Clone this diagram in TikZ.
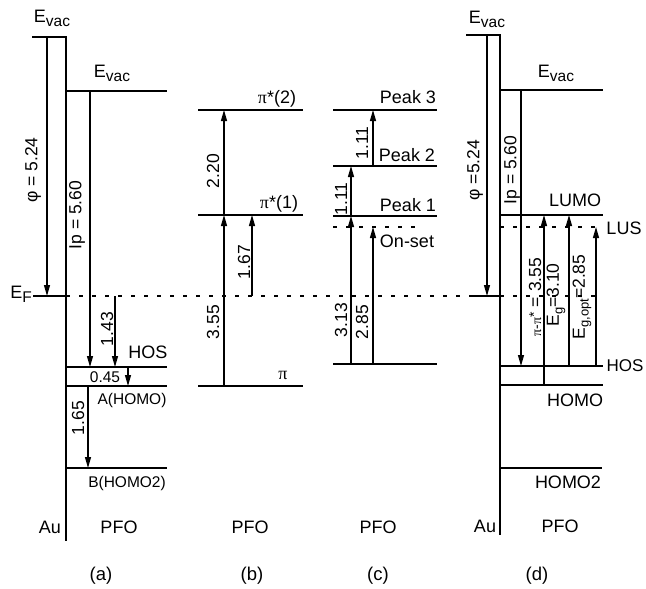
\documentclass[tikz,border=0pt]{standalone}
\usepackage{fontspec}
\setmainfont{Liberation Sans}
\newfontfamily\pifont{Liberation Serif}
\usetikzlibrary{arrows.meta}
\newcommand\lsub[1]{\raisebox{-0.4ex}{\fontsize{15.5}{15.5}\selectfont #1}}
\newcommand\ssub[1]{\raisebox{-0.4ex}{\fontsize{13}{13}\selectfont #1}}
\newcommand\PI{{\pifont π}}
\begin{document}
\begin{tikzpicture}[x=1pt,y=-1pt,
  level/.style={line width=2pt},
  metal/.style={line width=2.4pt,line join=miter},
  arr/.style={line width=1.2pt,-{Triangle[length=11pt,width=6pt]}},
  efdots/.style={line width=2.2pt,dash pattern=on 3.5pt off 9.5pt},
  lab/.style={font=\fontsize{18}{20}\selectfont, inner sep=0pt},
  num/.style={font=\fontsize{17.5}{19}\selectfont, inner sep=0pt, rotate=90},
  caplab/.style={font=\fontsize{18.5}{20}\selectfont, inner sep=0pt},
]
\useasboundingbox (0,0) rectangle (646,589);

% ---------------- panel (a)
\coordinate (aT0) at (32,37); \coordinate (aT1) at (66,37); \coordinate (aAu) at (66,541);
\draw[metal] (aT0) -- (aT1) -- (aAu);
\coordinate (aV0) at (66,91);  \coordinate (aV1) at (167,91);
\coordinate (aH0) at (66,367); \coordinate (aH1) at (167,367);
\coordinate (aA0) at (66,386); \coordinate (aA1) at (167,386);
\coordinate (aB0) at (66,468); \coordinate (aB1) at (167,468);
\coordinate (aF0) at (33,296); \coordinate (aF1) at (66,296);
\draw[level] (aV0) -- (aV1);
\draw[level] (aH0) -- (aH1);
\draw[level] (aA0) -- (aA1);
\draw[level] (aB0) -- (aB1);
\draw[level] (aF0) -- (aF1);
\coordinate (aphi0) at (47,37);  \coordinate (aphi1) at (47,296);
\coordinate (aip0) at (90,91);   \coordinate (aip1) at (90,367);
\coordinate (a143s) at (115,296); \coordinate (a143e) at (115,367);
\coordinate (a045s) at (128,367); \coordinate (a045e) at (128,386);
\coordinate (a165s) at (88,386);  \coordinate (a165e) at (88,468);
\draw[arr] (aphi0) -- (aphi1);
\draw[arr] (aip0) -- (aip1);
\draw[arr] (a143s) -- (a143e);
\draw[arr] (a045s) -- (a045e);
\draw[arr] (a165s) -- (a165e);
\node[lab] (aEvT) at (52,18) {E\lsub{vac}};
\node[lab] (aEv) at (112,73) {E\lsub{vac}};
\node[lab] (aEF) at (21,294) {E\lsub{F}};
\node[lab] (aHOS) at (148,352) {HOS};
\node[lab,font=\fontsize{15.5}{17}\selectfont] (a045) at (105,377) {0.45};
\node[lab,font=\fontsize{15.5}{17}\selectfont] (aAH) at (132,400) {A(HOMO)};
\node[lab,font=\fontsize{15.5}{17}\selectfont] (aBH) at (127,483) {B(HOMO2)};
\node[lab] (aAuL) at (50,527) {Au};
\node[lab] (aPFO) at (119,527) {PFO};
\node[caplab] (acap) at (101,576) {(a)};
\node[num] (aphiL) at (33,170) {φ = 5.24};
\node[num] (aipL) at (77,215) {Ip = 5.60};
\node[num] (a143L) at (107,329) {1.43};
\node[num] (a165L) at (78,418) {1.65};

% dotted Fermi level
\coordinate (ef0) at (66,296); \coordinate (ef1) at (473,296);
\draw[efdots] (ef0) -- (ef1);

% ---------------- panel (b)
\coordinate (bP20) at (198,110); \coordinate (bP21) at (303,110);
\coordinate (bP10) at (198,215); \coordinate (bP11) at (303,215);
\coordinate (bP0) at (198,386);  \coordinate (bP1) at (303,386);
\draw[level] (bP20) -- (bP21);
\draw[level] (bP10) -- (bP11);
\draw[level] (bP0) -- (bP1);
\coordinate (b355s) at (224,386); \coordinate (b355e) at (224,215);
\coordinate (b220e) at (224,110);
\coordinate (b167s) at (252,296); \coordinate (b167e) at (252,215);
\draw[arr] (b355s) -- (b355e);
\draw[arr] (b355e) -- (b220e);
\draw[arr] (b167s) -- (b167e);
\node[lab] (bP2L) at (277,99) {\PI*(2)};
\node[lab] (bP1L) at (279,204) {\PI*(1)};
\node[lab] (bPL) at (283,375) {\PI};
\node[num] (b220L) at (213,171) {2.20};
\node[num] (b167L) at (244,262) {1.67};
\node[num] (b355L) at (213,322) {3.55};
\node[lab] (bPFO) at (250,527) {PFO};
\node[caplab] (bcap) at (252,576) {(b)};

% ---------------- panel (c)
\coordinate (cK30) at (333,110); \coordinate (cK31) at (437,110);
\coordinate (cK20) at (333,166); \coordinate (cK21) at (437,166);
\coordinate (cK10) at (333,216); \coordinate (cK11) at (437,216);
\coordinate (cG0) at (333,364);  \coordinate (cG1) at (437,364);
\coordinate (cO0) at (333,227);  \coordinate (cO1) at (420,227);
\draw[level] (cK30) -- (cK31);
\draw[level] (cK20) -- (cK21);
\draw[level] (cK10) -- (cK11);
\draw[level] (cG0) -- (cG1);
\draw[efdots] (cO0) -- (cO1);
\coordinate (c313s) at (351,364); \coordinate (c313e) at (351,216);
\coordinate (c111e) at (351,166);
\coordinate (c111bs) at (373,166); \coordinate (c111be) at (373,110);
\coordinate (c285s) at (373,364); \coordinate (c285e) at (373,227);
\draw[arr] (c313s) -- (c313e);
\draw[arr] (c313e) -- (c111e);
\draw[arr] (c111bs) -- (c111be);
\draw[arr] (c285s) -- (c285e);
\node[lab] (cK3L) at (408,97) {Peak 3};
\node[lab] (cK2L) at (407,155) {Peak 2};
\node[lab] (cK1L) at (408,205) {Peak 1};
\node[lab] (cOL) at (407,241) {On-set};
\node[num] (c111L) at (362,143) {1.11};
\node[num] (c111bL) at (341,199) {1.11};
\node[num] (c313L) at (341,320) {3.13};
\node[num] (c285L) at (362,322) {2.85};
\node[lab] (cPFO) at (378,527) {PFO};
\node[caplab] (ccap) at (378,576) {(c)};

% ---------------- panel (d)
\coordinate (dT0) at (466,35); \coordinate (dT1) at (500,35); \coordinate (dAu) at (500,535);
\draw[metal] (dT0) -- (dT1) -- (dAu);
\coordinate (dV0) at (500,90);   \coordinate (dV1) at (603,90);
\coordinate (dL0) at (500,215);  \coordinate (dL1) at (603,215);
\coordinate (dU0) at (500,227);  \coordinate (dU1) at (603,227);
\coordinate (dH0) at (500,366);  \coordinate (dH1) at (603,366);
\coordinate (dM0) at (500,385);  \coordinate (dM1) at (603,385);
\coordinate (dM20) at (500,468); \coordinate (dM21) at (602,468);
\coordinate (dF0) at (473,296);  \coordinate (dF1) at (500,296);
\coordinate (dF2) at (603,296);
\draw[level] (dV0) -- (dV1);
\draw[level] (dL0) -- (dL1);
\draw[efdots] (dU0) -- (dU1);
\draw[level] (dH0) -- (dH1);
\draw[level] (dM0) -- (dM1);
\draw[level] (dM20) -- (dM21);
\draw[level] (dF0) -- (dF1);
\draw[efdots] (dF1) -- (dF2);
\coordinate (dphi0) at (487,35);  \coordinate (dphi1) at (487,296);
\coordinate (dip0) at (521,90);   \coordinate (dip1) at (521,366);
\coordinate (dpps) at (544,385);  \coordinate (dppe) at (544,215);
\coordinate (dEgs) at (569,366);  \coordinate (dEge) at (569,215);
\coordinate (dEos) at (596,366);  \coordinate (dEoe) at (596,227);
\draw[arr] (dphi0) -- (dphi1);
\draw[arr] (dip0) -- (dip1);
\draw[arr] (dpps) -- (dppe);
\draw[arr] (dEgs) -- (dEge);
\draw[arr] (dEos) -- (dEoe);
\node[lab] (dEvT) at (487,19) {E\lsub{vac}};
\node[lab] (dEv) at (556,73) {E\lsub{vac}};
\node[lab] (dLUMO) at (575,200) {LUMO};
\node[lab] (dLUS) at (624,228) {LUS};
\node[lab,font=\fontsize{17}{19}\selectfont] (dHOS) at (625,366) {HOS};
\node[lab] (dHOMO) at (575,400) {HOMO};
\node[lab] (dHOMO2) at (568,482) {HOMO2};
\node[lab] (dAuL) at (485,526) {Au};
\node[lab] (dPFO) at (560,526) {PFO};
\node[caplab] (dcap) at (537,576) {(d)};
\node[num] (dphiL) at (475,170) {φ =5.24};
\node[num] (dipL) at (512,170) {Ip = 5.60};
\node[num] (dppL) at (535,297) {{\fontsize{14}{14}\selectfont\PI-\PI\raisebox{0.3ex}{*}} = 3.55};
\node[num] (dEgL) at (556,295) {E\ssub{g}=3.10};
\node[num] (dEoL) at (582,297) {E\ssub{g,opt}=2.85};
\end{tikzpicture}
\end{document}
